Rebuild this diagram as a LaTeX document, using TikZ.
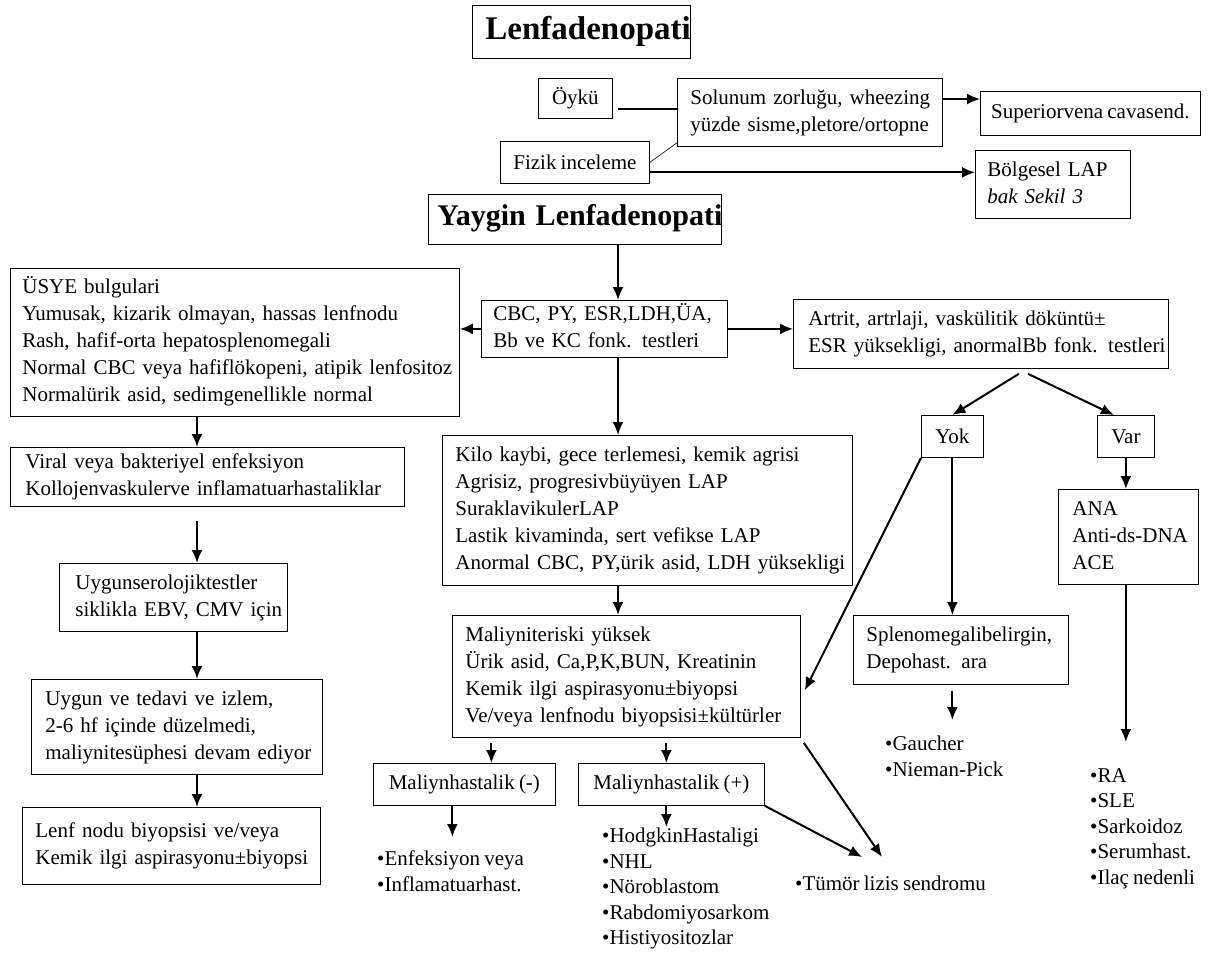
\documentclass[tikz,border=0pt]{standalone}
\usepackage{fontspec}
\setmainfont{Liberation Serif}
\usetikzlibrary{arrows.meta,calc}
\newcommand\myfs{\fontsize{21}{27}\selectfont\spaceskip=0.2em plus 0.05em\relax}
\newcommand\mylist{\fontsize{21}{25.5}\selectfont\spaceskip=0.2em plus 0.05em\relax}
\newcommand\mytab[1]{\begin{tabular}{@{}l@{}}#1\end{tabular}}
\begin{document}
\begin{tikzpicture}[x=1pt,y=-1pt,
  box/.style={draw, line width=0.8pt, anchor=north west, inner ysep=0pt, align=left, font=\myfs},
  cbox/.style={draw, line width=0.8pt, anchor=north west, inner sep=0pt, align=center, font=\myfs},
  arr/.style={line width=2pt, -{Latex[length=13pt,width=11pt]}},
  ln/.style={line width=2pt},
  txt/.style={anchor=north west, inner sep=0pt, align=left, font=\mylist}]
\useasboundingbox (0,0) rectangle (1216,954);
\fill[white] (0,0) rectangle (1216,954);
\coordinate (col) at (618,0);
\coordinate (lc) at (197,0);
% top
\node[box, inner xsep=13pt, text width=192pt, minimum height=53pt, font=\fontsize{33}{36}\selectfont\bfseries] (title) at (472,5) {\mytab{Lenfadenopati}};
\node[cbox, minimum width=74pt, minimum height=40pt] (oyku) at (538,78) {Öykü};
\node[box, inner xsep=13pt, text width=239pt, minimum height=68pt] (solunum) at (677,78) {\mytab{Solunum zorluğu, wheezing\\yüzde sisme,pletore/ortopne}};
\node[cbox, minimum width=149pt, minimum height=42pt] (fizik) at (500,141) {Fizik inceleme};
\node[cbox, minimum width=220pt, minimum height=44pt] (superior) at (980,91) {Superiorvena cavasend.};
\node[box, inner xsep=12pt, text width=131pt, minimum height=68pt] (bolgesel) at (975,150) {\mytab{Bölgesel LAP\\\textit{bak Sekil 3}}};
\node[box, inner xsep=9pt, text width=275pt, minimum height=50pt, font=\fontsize{30}{32}\selectfont\bfseries] (yaygin) at (428,194) {\mytab{Yaygin Lenfadenopati}};
% second row
\node[box, inner xsep=12pt, text width=222pt, minimum height=57pt] (cbc) at (481,300) {\mytab{CBC, PY, ESR,LDH,ÜA,\\Bb ve KC fonk. testleri}};
\node[box, inner xsep=15pt, text width=345pt, minimum height=69pt] (artrit) at (793,299) {\mytab{Artrit, artrlaji, vaskülitik döküntü±\\ESR yüksekligi, anormalBb fonk. testleri}};
\node[box, inner xsep=12pt, text width=425pt, minimum height=148pt] (usye) at (10,268) {\mytab{ÜSYE bulgulari\\Yumusak, kizarik olmayan, hassas lenfnodu\\Rash, hafif-orta hepatosplenomegali\\Normal CBC veya hafiflökopeni, atipik lenfositoz\\Normalürik asid, sedimgenellikle normal}};
% left column
\node[box, inner xsep=15pt, text width=364pt, minimum height=59pt] (viral) at (10,447) {\mytab{Viral veya bakteriyel enfeksiyon\\Kollojenvaskulerve inflamatuarhastaliklar}};
\node[box, inner xsep=16pt, text width=196pt, minimum height=68pt] (sero) at (59,563) {\mytab{Uygunserolojiktestler\\siklikla EBV, CMV için}};
\node[box, inner xsep=14pt, text width=263pt, minimum height=95pt] (tedavi) at (31,679) {\mytab{Uygun ve tedavi ve izlem,\\2-6 hf içinde düzelmedi,\\maliynitesüphesi devam ediyor}};
\node[box, inner xsep=13pt, text width=272pt, minimum height=77pt] (lenf) at (22,807) {\mytab{Lenf nodu biyopsisi ve/veya\\Kemik ilgi aspirasyonu±biyopsi}};
% middle column
\node[box, inner xsep=13pt, text width=384pt, minimum height=150pt] (kilo) at (442,435) {\mytab{Kilo kaybi, gece terlemesi, kemik agrisi\\Agrisiz, progresivbüyüyen LAP\\SuraklavikulerLAP\\Lastik kivaminda, sert vefikse LAP\\Anormal CBC, PY,ürik asid, LDH yüksekligi}};
\node[box, inner xsep=13pt, text width=322pt, minimum height=122pt] (maliyn) at (452,615) {\mytab{Maliyniteriski yüksek\\Ürik asid, Ca,P,K,BUN, Kreatinin\\Kemik ilgi aspirasyonu±biyopsi\\Ve/veya lenfnodu biyopsisi±kültürler}};
\node[cbox, minimum width=182pt, minimum height=42pt] (neg) at (373,763) {Maliynhastalik (-)};
\node[cbox, minimum width=186pt, minimum height=42pt] (pos) at (578,763) {Maliynhastalik (+)};
% right
\node[cbox, minimum width=62pt, minimum height=42pt] (yok) at (921,415) {Yok};
\node[cbox, minimum width=57pt, minimum height=42pt] (var) at (1097,415) {Var};
\node[box, inner xsep=13pt, text width=189pt, minimum height=69pt] (spleno) at (853,615) {\mytab{Splenomegalibelirgin,\\Depohast. ara}};
\node[box, inner xsep=14pt, text width=112pt, minimum height=95pt] (ana) at (1058,489) {\mytab{ANA\\Anti-ds-DNA\\ACE}};
% text lists
\node[txt] (gaucher) at (885,736) {•Gaucher\\•Nieman-Pick};
\node[txt] (ra) at (1090,768) {•RA\\•SLE\\•Sarkoidoz\\•Serumhast.\\•Ilaç nedenli};
\node[txt] (enf) at (377,851) {•Enfeksiyon veya\\•Inflamatuarhast.};
\node[txt] (hodgkin) at (602,828) {•HodgkinHastaligi\\•NHL\\•Nöroblastom\\•Rabdomiyosarkom\\•Histiyositozlar};
\node[txt] (tumor) at (795,876) {•Tümör lizis sendromu};
% connectors
\draw[ln] ([shift={(5pt,-11pt)}]oyku.east) -- ([yshift=3pt]solunum.west);
\draw[arr] ($(solunum.north east)+(0,21)$) -- ($(solunum.north east -| superior.west)+(0,21)$);
\draw[line width=0.6pt] (fizik.east) -- ([yshift=4pt]solunum.south west);
\draw[arr] ([yshift=-10pt]fizik.east) -- ($(fizik.east -| bolgesel.west)+(0,10)$);
\draw[arr] (yaygin.south -| col) -- (cbc.north -| col);
\draw[arr] (cbc.west) -- (cbc.west -| usye.east);
\draw[arr] (cbc.east) -- (cbc.east -| artrit.west);
\draw[arr] ($(artrit.south)+(38,5)$) -- (yok.north);
\draw[arr] ($(artrit.south)+(47,5)$) -- ($(var.north)+(-12,0)$);
\draw[arr] (usye.south -| lc) -- (viral.north -| lc);
\draw[arr] ($(viral.south -| lc)+(0,14)$) -- (sero.north -| lc);
\draw[arr] (sero.south -| lc) -- (tedavi.north -| lc);
\draw[arr] (tedavi.south -| lc) -- (lenf.north -| lc);
\draw[arr] (cbc.south -| col) -- (kilo.north -| col);
\draw[arr] (kilo.south -| col) -- (maliyn.north -| col);
\draw[arr] (yok.south west) -- ($(maliyn.east)+(4,14)$);
\draw[arr] (yok.south) -- (yok.south |- spleno.north);
\draw[arr] ($(spleno.south -| yok.south)+(0,6)$) -- ($(gaucher.north -| yok.south)+(0,-16)$);
\draw[arr] (var.south) -- (var.south |- ana.north);
\draw[arr] (ana.south -| var.south) -- ($(ra.north -| var.south)+(0,-26)$);
\draw[arr] ($(maliyn.south -| neg.north)+(27,5)$) -- ($(neg.north)+(27,0)$);
\draw[arr] ($(maliyn.south -| pos.north)+(-5,5)$) -- ($(pos.north)+(-5,0)$);
\draw[arr] ($(neg.south)+(-12,0)$) -- ($(enf.north -| neg.south)+(-12,-14)$);
\draw[arr] ($(pos.south)+(-5,0)$) -- ($(hodgkin.north -| pos.south)+(-5,-1)$);
\draw[arr] (pos.south east) -- ($(tumor.north west)+(67,-19)$);
\draw[arr] ($(maliyn.south east)+(3,5)$) -- ($(tumor.north west)+(87,-19)$);
\end{tikzpicture}
\end{document}
